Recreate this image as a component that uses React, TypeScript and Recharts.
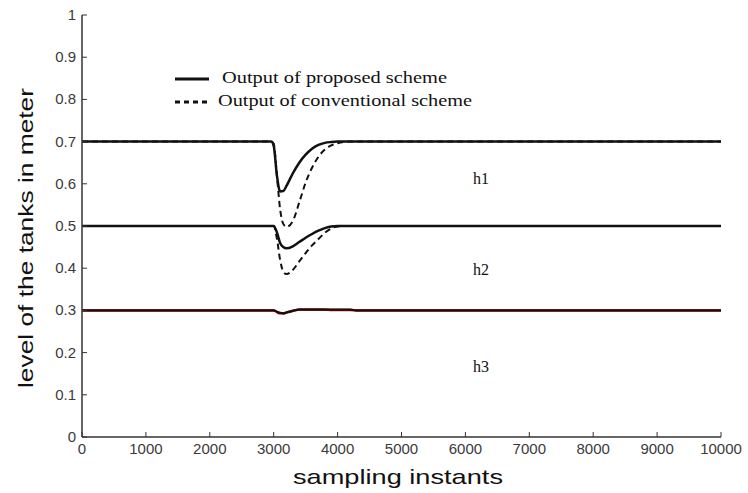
import React from 'react';
import { LineChart, Line, XAxis, YAxis } from 'recharts';

const SAMPLES = [0, 2900, 2960, 3000, 3050, 3100, 3150, 3200, 3300, 3400, 3500, 3600, 3700, 3800, 3900, 4000, 4100, 4200, 4300, 10000];

// tank 1 level
const H1_PROPOSED = [0.7, 0.7, 0.7, 0.69, 0.62, 0.582, 0.583, 0.595, 0.625, 0.65, 0.669, 0.683, 0.692, 0.697, 0.699, 0.7, 0.7, 0.7, 0.7, 0.7];
const H1_CONVENTIONAL = [0.7, 0.7, 0.7, 0.695, 0.62, 0.54, 0.505, 0.498, 0.512, 0.556, 0.603, 0.638, 0.664, 0.681, 0.691, 0.696, 0.699, 0.7, 0.7, 0.7];

// tank 2 level
const H2_PROPOSED = [0.5, 0.5, 0.5, 0.5, 0.485, 0.46, 0.45, 0.447, 0.452, 0.462, 0.472, 0.481, 0.489, 0.495, 0.499, 0.5, 0.5, 0.5, 0.5, 0.5];
const H2_CONVENTIONAL = [0.5, 0.5, 0.5, 0.5, 0.47, 0.42, 0.392, 0.386, 0.396, 0.416, 0.436, 0.454, 0.469, 0.484, 0.494, 0.499, 0.5, 0.5, 0.5, 0.5];

// tank 3 level
const H3_PROPOSED = [0.3, 0.3, 0.3, 0.3, 0.297, 0.294, 0.293, 0.295, 0.299, 0.302, 0.302, 0.302, 0.302, 0.302, 0.302, 0.302, 0.302, 0.302, 0.3, 0.3];
const H3_CONVENTIONAL = [0.3, 0.3, 0.3, 0.3, 0.296, 0.293, 0.293, 0.295, 0.299, 0.302, 0.302, 0.302, 0.302, 0.302, 0.301, 0.301, 0.301, 0.301, 0.3, 0.3];

const X_TICKS = [0, 1000, 2000, 3000, 4000, 5000, 6000, 7000, 8000, 9000, 10000];
const Y_TICKS = [0, 0.1, 0.2, 0.3, 0.4, 0.5, 0.6, 0.7, 0.8, 0.9, 1];

const data = SAMPLES.map((t, i) => ({
  t,
  h1p: H1_PROPOSED[i],
  h1c: H1_CONVENTIONAL[i],
  h2p: H2_PROPOSED[i],
  h2c: H2_CONVENTIONAL[i],
  h3p: H3_PROPOSED[i],
  h3c: H3_CONVENTIONAL[i],
}));

const AXIS = '#333';
const TICK_FONT = '"Liberation Sans", Arial, sans-serif';
const SERIF = '"Liberation Serif", "Times New Roman", serif';

// matlab style ticks: short mark pointing into the plot, label outside
const BottomTick = (props: any) => {
  const { x, y, payload } = props;
  return (
    <g>
      <line x1={x} y1={y} x2={x} y2={y - 5} stroke={AXIS} strokeWidth={1} />
      <text x={x} y={y + 17} textAnchor="middle" style={{ fontSize: 15 }} fill="#3a3a3a" fontFamily={TICK_FONT}>
        {payload.value}
      </text>
    </g>
  );
};

const LeftTick = (props: any) => {
  const { x, y, payload } = props;
  return (
    <g>
      <line x1={x} y1={y} x2={x + 5} y2={y} stroke={AXIS} strokeWidth={1} />
      <text x={x - 6} y={y + 5} textAnchor="end" style={{ fontSize: 15 }} fill="#3a3a3a" fontFamily={TICK_FONT}>
        {payload.value}
      </text>
    </g>
  );
};

const TopTick = (props: any) => {
  const { x, y } = props;
  return <line x1={x} y1={y} x2={x} y2={y + 5} stroke={AXIS} strokeWidth={1} />;
};

const RightTick = (props: any) => {
  const { x, y } = props;
  return <line x1={x} y1={y} x2={x - 5} y2={y} stroke={AXIS} strokeWidth={1} />;
};

export default function App() {
  return (
    <div style={{ position: 'absolute', left: 0, top: 0, width: 748, height: 493, background: '#fff' }}>
      <LineChart width={748} height={493} data={data} margin={{ top: 15, right: 27, left: 0, bottom: 0 }}>
        <XAxis
          dataKey="t"
          type="number"
          domain={[0, 10000]}
          ticks={X_TICKS}
          height={56}
          tickSize={0}
          tickMargin={0}
          tickLine={false}
          tick={<BottomTick />}
          stroke={AXIS}
          strokeWidth={1.5}
          interval={0}
        />
        <XAxis
          xAxisId="top"
          orientation="top"
          dataKey="t"
          type="number"
          domain={[0, 10000]}
          ticks={X_TICKS.slice(1, -1)}
          height={0}
          tickSize={0}
          tickMargin={0}
          tickLine={false}
          tick={<TopTick />}
          stroke={AXIS}
          interval={0}
        />
        <YAxis
          type="number"
          domain={[0, 1]}
          ticks={Y_TICKS}
          width={82}
          tickSize={0}
          tickMargin={0}
          tickLine={false}
          tick={<LeftTick />}
          stroke={AXIS}
          strokeWidth={1.5}
          interval={0}
        />
        <YAxis
          yAxisId="right"
          orientation="right"
          type="number"
          domain={[0, 1]}
          ticks={Y_TICKS.slice(1, -1)}
          width={0}
          tickSize={0}
          tickMargin={0}
          tickLine={false}
          tick={<RightTick />}
          stroke={AXIS}
          interval={0}
        />
        <Line type="monotone" dataKey="h3c" stroke="#e00000" strokeWidth={2.5} dot={false} isAnimationActive={false} />
        <Line type="monotone" dataKey="h1c" stroke="#111" strokeWidth={2} strokeDasharray="6 4" dot={false} isAnimationActive={false} />
        <Line type="monotone" dataKey="h2c" stroke="#111" strokeWidth={2} strokeDasharray="6 4" dot={false} isAnimationActive={false} />
        <Line type="monotone" dataKey="h1p" stroke="#111" strokeWidth={2.5} dot={false} isAnimationActive={false} />
        <Line type="monotone" dataKey="h2p" stroke="#111" strokeWidth={2.5} dot={false} isAnimationActive={false} />
        <Line type="monotone" dataKey="h3p" stroke="#111" strokeWidth={2.2} dot={false} isAnimationActive={false} />
      </LineChart>

      {/* legend, curve labels and axis titles */}
      <svg width={748} height={493} style={{ position: 'absolute', left: 0, top: 0, pointerEvents: 'none' }}>
        <line x1={175} y1={79} x2={209} y2={79} stroke="#111" strokeWidth={3} />
        <text x={222} y={83} fontSize={17} fontFamily={SERIF} fill="#111" textLength={225} lengthAdjust="spacingAndGlyphs">
          Output of proposed scheme
        </text>
        <line x1={175} y1={102} x2={209} y2={102} stroke="#111" strokeWidth={3} strokeDasharray="5 4" />
        <text x={218} y={106} fontSize={17} fontFamily={SERIF} fill="#111" textLength={254} lengthAdjust="spacingAndGlyphs">
          Output of conventional scheme
        </text>

        <text x={473} y={184} fontSize={16} fontFamily={SERIF} fill="#111">h1</text>
        <text x={473} y={275} fontSize={16} fontFamily={SERIF} fill="#111">h2</text>
        <text x={473} y={372} fontSize={16} fontFamily={SERIF} fill="#111">h3</text>

        <text x={398} y={484} textAnchor="middle" fontSize={21} fontFamily={TICK_FONT} fill="#111" textLength={210} lengthAdjust="spacingAndGlyphs">
          sampling instants
        </text>
        <text
          transform="translate(33, 238) rotate(-90)"
          textAnchor="middle"
          fontSize={20}
          fontFamily={TICK_FONT}
          fill="#111"
          textLength={300}
          lengthAdjust="spacingAndGlyphs"
        >
          level of the tanks in meter
        </text>
      </svg>
    </div>
  );
}
